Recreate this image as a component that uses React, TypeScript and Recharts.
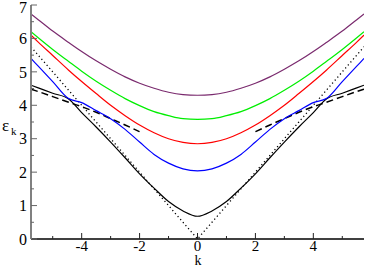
import React from 'react';
import { LineChart, Line, XAxis, YAxis } from 'recharts';

// k grid and band energies
const K = [-5.75, -5.5, -5, -4.45, -4, -3.5, -3, -2.5, -2, -1.5, -1, -0.5, 0, 0.5, 1, 1.5, 2, 2.5, 3, 3.5, 4, 4.45, 5, 5.5, 5.75];
const PURPLE = [6.73, 6.56, 6.22, 5.88, 5.61, 5.33, 5.08, 4.85, 4.66, 4.51, 4.39, 4.32, 4.3, 4.32, 4.39, 4.51, 4.66, 4.85, 5.08, 5.33, 5.61, 5.88, 6.22, 6.56, 6.73];
const GREEN = [6.2, 6.02, 5.67, 5.31, 5.02, 4.72, 4.45, 4.2, 3.99, 3.81, 3.69, 3.6, 3.58, 3.6, 3.69, 3.81, 3.99, 4.2, 4.45, 4.72, 5.02, 5.31, 5.67, 6.02, 6.2];
const RED = [6.1, 5.89, 5.49, 5.05, 4.71, 4.35, 4.0, 3.69, 3.41, 3.18, 3.0, 2.89, 2.85, 2.89, 3.0, 3.18, 3.41, 3.69, 4.0, 4.35, 4.71, 5.05, 5.49, 5.89, 6.1];
const BLUE = [5.4, 5.17, 4.71, 4.2, 4.08, 3.84, 3.6, 3.28, 2.9, 2.53, 2.27, 2.1, 2.04, 2.1, 2.27, 2.53, 2.9, 3.28, 3.6, 3.84, 4.08, 4.2, 4.71, 5.17, 5.4];
const BLACK = [4.6, 4.52, 4.36, 4.19, 3.78, 3.35, 2.9, 2.43, 1.95, 1.52, 1.12, 0.84, 0.68, 0.84, 1.12, 1.52, 1.95, 2.43, 2.9, 3.35, 3.78, 4.19, 4.36, 4.52, 4.6];
const DASHED = [4.48, 4.41, 4.26, 4.09, 3.96, 3.79, 3.6, 3.41, 3.21, null, null, null, null, null, null, null, 3.21, 3.41, 3.6, 3.79, 3.96, 4.09, 4.26, 4.41, 4.48];
const DOTTED = [5.75, 5.5, 5, 4.45, 4, 3.5, 3, 2.5, 2, 1.5, 1, 0.5, 0, 0.5, 1, 1.5, 2, 2.5, 3, 3.5, 4, 4.45, 5, 5.5, 5.75];

const X_TICKS = [-5, -4, -3, -2, -1, 0, 1, 2, 3, 4, 5];
const Y_TICKS = [0, 0.5, 1, 1.5, 2, 2.5, 3, 3.5, 4, 4.5, 5, 5.5, 6, 6.5, 7];

const data = K.map((k, i) => ({
  k,
  purple: PURPLE[i],
  green: GREEN[i],
  red: RED[i],
  blue: BLUE[i],
  black: BLACK[i],
  dashed: DASHED[i],
  dotted: DOTTED[i],
}));

const serif = { fontFamily: "'Liberation Serif', 'DejaVu Serif', 'Times New Roman', serif" };

const BottomTick = (p: any) => {
  const major = p.payload.value % 2 === 0;
  return (
    <g>
      <line x1={p.x} x2={p.x} y1={p.y} y2={p.y - (major ? 6 : 3)} stroke="#222" />
      {major && (
        <text x={p.x} y={p.y + 12} textAnchor="middle" fontSize={15} style={serif} fill="#000">
          {p.payload.value}
        </text>
      )}
    </g>
  );
};

const TopTick = (p: any) => {
  const major = p.payload.value % 2 === 0;
  return <line x1={p.x} x2={p.x} y1={p.y} y2={p.y + (major ? 6 : 3)} stroke="#666" />;
};

const LeftTick = (p: any) => {
  const major = Number.isInteger(p.payload.value);
  const y = p.payload.value === 7 ? p.y + 2 : p.y;
  return (
    <g>
      <line x1={p.x} x2={p.x + (major ? 6 : 3)} y1={p.y} y2={p.y} stroke="#666" />
      {major && (
        <text x={p.x - 4} y={y} dy="0.36em" textAnchor="end" fontSize={16} style={serif} fill="#000">
          {p.payload.value}
        </text>
      )}
    </g>
  );
};

const RightTick = (p: any) => {
  const major = Number.isInteger(p.payload.value);
  return <line x1={p.x} x2={p.x - (major ? 6 : 3)} y1={p.y} y2={p.y} stroke="#444" />;
};

export default function App() {
  return (
    <div style={{ position: 'absolute', left: 0, top: 0, width: 366, height: 270, background: '#fff' }}>
      <LineChart width={366} height={270} data={data} margin={{ top: 5, right: 2, left: 0, bottom: 0 }}>
        <XAxis
          xAxisId="b"
          dataKey="k"
          type="number"
          domain={[-5.75, 5.75]}
          allowDataOverflow
          ticks={X_TICKS}
          interval={0}
          height={31}
          tickSize={0}
          tickMargin={0}
          tickLine={false}
          axisLine={{ stroke: '#000', strokeWidth: 1.5 }}
          tick={(p: any) => <BottomTick {...p} />}
        />
        <XAxis
          xAxisId="t"
          orientation="top"
          dataKey="k"
          type="number"
          domain={[-5.75, 5.75]}
          allowDataOverflow
          ticks={X_TICKS}
          interval={0}
          height={0}
          tickSize={0}
          tickMargin={0}
          tickLine={false}
          axisLine={{ stroke: '#808080', strokeWidth: 1.5 }}
          tick={(p: any) => <TopTick {...p} />}
        />
        <YAxis
          yAxisId="l"
          type="number"
          domain={[0, 7]}
          allowDataOverflow
          ticks={Y_TICKS}
          interval={0}
          width={31}
          tickSize={0}
          tickMargin={0}
          tickLine={false}
          axisLine={{ stroke: '#808080', strokeWidth: 2 }}
          tick={(p: any) => <LeftTick {...p} />}
        />
        <YAxis
          yAxisId="r"
          orientation="right"
          type="number"
          domain={[0, 7]}
          allowDataOverflow
          ticks={Y_TICKS}
          interval={0}
          width={0}
          tickSize={0}
          tickMargin={0}
          tickLine={false}
          axisLine={{ stroke: '#333', strokeWidth: 1.5 }}
          tick={(p: any) => <RightTick {...p} />}
        />
        <Line xAxisId="b" yAxisId="l" type="linear" dataKey="dotted" stroke="#000" strokeWidth={1.3} strokeDasharray="1.2 2.8" dot={false} isAnimationActive={false} />
        <Line xAxisId="b" yAxisId="l" type="monotone" dataKey="dashed" stroke="#000" strokeWidth={1.5} strokeDasharray="7 4" dot={false} isAnimationActive={false} />
        <Line xAxisId="b" yAxisId="l" type="monotone" dataKey="black" stroke="#000" strokeWidth={1.2} dot={false} isAnimationActive={false} />
        <Line xAxisId="b" yAxisId="l" type="monotone" dataKey="blue" stroke="#0000ff" strokeWidth={1.2} dot={false} isAnimationActive={false} />
        <Line xAxisId="b" yAxisId="l" type="monotone" dataKey="red" stroke="#ff0000" strokeWidth={1.2} dot={false} isAnimationActive={false} />
        <Line xAxisId="b" yAxisId="l" type="monotone" dataKey="green" stroke="#00ee00" strokeWidth={1.2} dot={false} isAnimationActive={false} />
        <Line xAxisId="b" yAxisId="l" type="monotone" dataKey="purple" stroke="#7a2a6e" strokeWidth={1.2} dot={false} isAnimationActive={false} />
      </LineChart>
      <svg width={366} height={270} style={{ position: 'absolute', left: 0, top: 0, pointerEvents: 'none' }}>
        <text x={198} y={265} textAnchor="middle" fontSize={14} style={serif} fill="#000">k</text>
        <text x={2} y={131} fontSize={17} style={serif} fill="#000">ε</text>
        <text x={11} y={135} fontSize={11} style={serif} fill="#000">k</text>
      </svg>
    </div>
  );
}
